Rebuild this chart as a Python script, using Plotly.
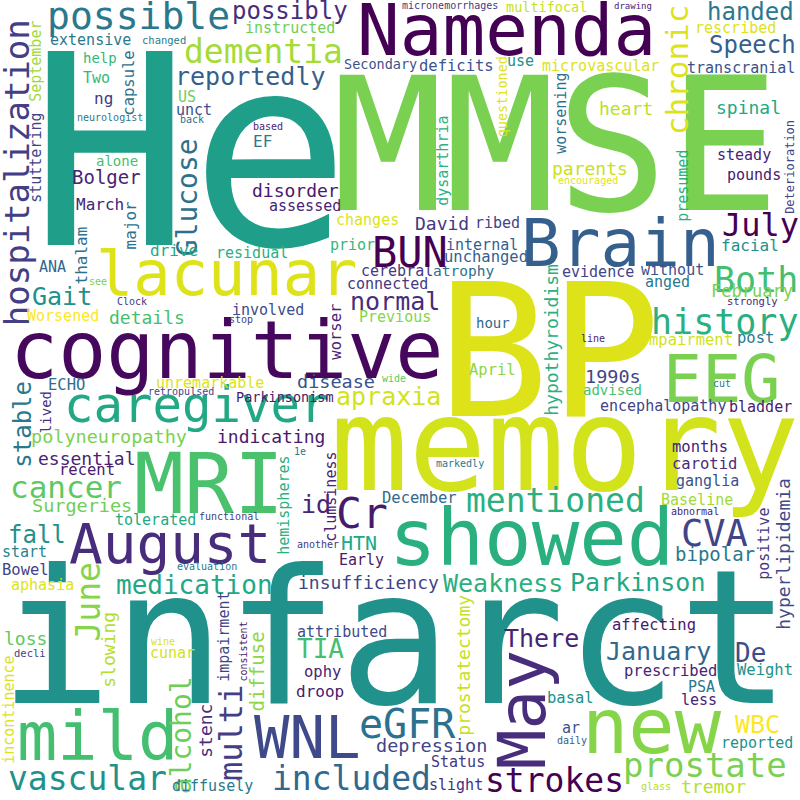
import plotly.graph_objects as go

# word, x, y, font size, color, angle
# horizontal words: x = centre of word, y = baseline
# vertical words (angle 90): x = baseline position, y = centre of word
words = ["He", "MMSE", "BP", "memory", "cognitive", "infarct", "Namenda", "Brain", "lacunar", "caregiver",
         "MRI", "showed", "August", "new", "mild", "WNL", "May", "eGFR", "strokes", "prostate",
         "dementia", "possible", "hospitalization", "reportedly", "possibly", "instructed", "extensive", "changed", "September", "help",
         "Two", "capsule", "ng", "US", "unct", "neurologist", "back", "based", "EF", "Glucose",
         "disorder", "alone", "Bolger", "stuttering", "March", "major", "drive", "residual", "thalam", "ANA",
         "micronemorrhages", "multifocal", "Secondary", "deficits", "questioned", "use", "microvascular", "drawing", "handed", "chronic",
         "Speech", "rescribed", "transcranial", "worsening", "heart", "spinal", "Deterioration", "steady", "pounds", "parents",
         "encouraged", "presumed", "July", "facial", "Both", "evidence", "without", "anged", "hypothyroidism", "February",
         "strongly", "history", "mpairment", "post", "line", "EEG", "1990s", "cut", "advised", "encephalopathy",
         "bladder", "months", "carotid", "ganglia", "hyperlipidemia", "Baseline", "abnormal", "positive", "mentioned", "CVA",
         "bipolar", "Parkinson", "Weakness", "affecting", "There", "January", "De", "prescribed", "Weight", "PSA",
         "basal", "less", "WBC", "ar", "daily", "reported", "glass", "tremor", "HTN", "another",
         "hemispheres", "clumsiness", "Early", "insufficiency", "attributed", "TIA", "ophy", "droop", "prostatectomy", "depression",
         "Status", "included", "slight", "fall", "start", "Bowel", "evaluation", "medication", "aphasia", "June",
         "loss", "decli", "slowing", "wine", "cunar", "impairment", "consistent", "diffuse", "incontinence", "alcohol",
         "stenc", "multi", "vascular", "diffusely", "Gait", "see", "Clock", "Worsened", "details", "involved",
         "stop", "ECHO", "stable", "lived", "unremarkable", "retropulsed", "Parkinsonism", "polyneuropathy", "indicating", "essential",
         "recent", "cancer", "Surgeries", "tolerated", "functional", "cerebral", "atrophy", "connected", "normal", "Previous",
         "worser", "hour", "disease", "wide", "April", "apraxia", "1e", "markedly", "id", "Cr",
         "December", "assessed", "changes", "David", "ribed", "dysarthria", "prior", "BUN", "internal", "unchanged"]

x_pos = [190, 556, 549, 565, 226, 395, 506, 620, 226, 197,
         209, 531, 170, 652, 97, 307, 545, 407, 554, 705,
         263, 138, 29, 250, 290, 290, 90, 164, 41, 100,
         96, 134, 103, 187, 194, 110, 192, 268, 262, 197,
         295, 117, 106, 41, 100, 136, 174, 252, 87, 52,
         450, 546, 380, 456, 507, 520, 600, 633, 750, 688,
         752, 735, 741, 566, 626, 748, 794, 744, 754, 590,
         588, 688, 760, 750, 756, 598, 672, 667, 557, 752,
         752, 725, 691, 755, 593, 721, 613, 722, 612, 663,
         760, 700, 704, 707, 789, 697, 695, 769, 555, 714,
         715, 637, 503, 654, 541, 658, 750, 670, 765, 701,
         570, 699, 757, 571, 572, 757, 656, 713, 359, 318,
         289, 336, 361, 368, 342, 320, 322, 320, 469, 431,
         458, 351, 456, 37, 24, 25, 207, 194, 42, 99,
         25, 30, 114, 163, 172, 229, 246, 264, 14, 191,
         211, 242, 87, 212, 62, 98, 132, 63, 147, 268,
         241, 66, 31, 51, 210, 181, 285, 109, 271, 87,
         87, 66, 82, 155, 229, 397, 463, 387, 395, 395,
         341, 493, 336, 394, 492, 388, 300, 460, 316, 362,
         419, 305, 367, 442, 497, 448, 352, 410, 482, 486]

y_pos = [245, 210, 416, 490, 378, 703, 55, 266, 295, 422,
         513, 565, 563, 753, 760, 758, 710, 738, 792, 777,
         63, 29, 173, 85, 19, 33, 45, 44, 61, 63,
         83, 83, 104, 102, 115, 121, 123, 130, 147, 197,
         197, 166, 184, 158, 210, 225, 256, 258, 255, 272,
         9, 12, 69, 71, 97, 66, 71, 9, 20, 70,
         53, 33, 73, 113, 115, 114, 167, 160, 180, 175,
         184, 186, 236, 251, 292, 277, 275, 287, 340, 297,
         305, 334, 345, 343, 342, 402, 383, 387, 395, 411,
         412, 452, 469, 486, 554, 505, 515, 544, 512, 546,
         561, 591, 592, 630, 647, 660, 662, 676, 675, 692,
         703, 705, 733, 733, 744, 748, 790, 793, 550, 548,
         505, 497, 565, 589, 637, 658, 677, 697, 665, 752,
         767, 790, 790, 543, 557, 575, 570, 594, 590, 602,
         645, 657, 650, 645, 658, 637, 652, 671, 710, 735,
         731, 733, 790, 791, 305, 285, 305, 321, 324, 315,
         323, 390, 424, 412, 388, 395, 402, 443, 443, 465,
         475, 498, 512, 525, 520, 276, 276, 289, 310, 322,
         332, 328, 388, 382, 375, 405, 455, 467, 513, 528,
         503, 211, 225, 230, 228, 161, 250, 267, 250, 262]

sizes = [266, 186, 186, 130, 80, 188, 71, 66, 62, 49,
         83, 79, 56, 77, 67, 59, 66, 40, 33, 34,
         33, 38, 34, 25, 24, 15, 15, 10.5, 15, 14,
         15, 15.5, 16, 15, 15, 10, 10, 10, 16, 28,
         18, 14, 19, 15, 16, 16, 16, 15, 16, 15,
         10, 13.5, 13.5, 15.5, 13.5, 15, 15, 9, 24, 31,
         24, 15, 15, 15, 18, 18, 12, 15, 15, 18,
         10, 15, 32, 16, 35, 15, 15, 15, 18, 17,
         10.5, 35, 15.5, 15.5, 10, 65, 18.5, 10, 14, 15,
         15, 15.5, 15.5, 15, 18, 15, 10, 15, 33, 37,
         19, 25, 25, 15.5, 25, 25, 26, 15.5, 15.5, 15,
         15.5, 15, 25, 15, 10, 15, 10, 18, 20, 10,
         15, 15, 15, 18, 15, 26, 15.5, 16, 18, 18.5,
         15, 33, 15, 24, 15, 15.5, 10, 26, 15, 33,
         18, 10.5, 18, 10, 15, 15, 10, 19, 15, 28,
         18, 32, 33, 15, 25, 10, 10, 15, 18, 15,
         10, 15.5, 24, 14, 15, 10, 13.5, 18.5, 18, 18,
         15.5, 31, 18.5, 15, 10, 15, 14.5, 15, 25, 15,
         15.5, 14, 18.5, 10, 15.5, 25, 10, 10, 25, 43,
         15.5, 15, 15, 18, 15, 15, 15, 42, 15, 15.5]

colors = ["#1f9e89", "#7ad151", "#dde318", "#d2e21b", "#46085c", "#21918c", "#440154", "#355f8d", "#dde318", "#22a884",
          "#4ac16d", "#2ab07f", "#472d7b", "#86d549", "#44bf70", "#3e4a89", "#472d7b", "#2c728e", "#440154", "#7ad151",
          "#a5db36", "#2a788e", "#433e85", "#355f8d", "#472d7b", "#6ece58", "#2a788e", "#27808e", "#a0da39", "#35b779",
          "#35b779", "#2d708e", "#443983", "#6ece58", "#3b528b", "#2a788e", "#2d708e", "#482475", "#2a788e", "#2d708e",
          "#481a6c", "#44bf70", "#482475", "#414487", "#482475", "#2d708e", "#22a884", "#2ab07f", "#2d708e", "#31688e",
          "#443983", "#c8e020", "#3b528b", "#3b528b", "#dde318", "#21918c", "#dde318", "#482475", "#2a788e", "#dde318",
          "#355f8d", "#dde318", "#3b528b", "#2d708e", "#bddf26", "#22a884", "#414487", "#482475", "#481a6c", "#c8e020",
          "#dde318", "#2ab07f", "#440154", "#21918c", "#44bf70", "#414487", "#3b528b", "#2a788e", "#2ab07f", "#7ad151",
          "#482475", "#2ab07f", "#d2e21b", "#2a788e", "#482475", "#7ad151", "#414487", "#2a788e", "#44bf70", "#414487",
          "#481a6c", "#482475", "#472d7b", "#3b528b", "#3e4c8a", "#a0da39", "#482475", "#443983", "#2ab07f", "#414487",
          "#2a788e", "#22a884", "#2ab07f", "#481a6c", "#482475", "#31688e", "#3e4c8a", "#482475", "#21918c", "#2a788e",
          "#21918c", "#482475", "#fde725", "#3b528b", "#375a8c", "#21918c", "#b5de2b", "#b5de2b", "#22a884", "#443983",
          "#2ab07f", "#482475", "#481a6c", "#414487", "#3e4c8a", "#44bf70", "#482475", "#481a6c", "#c8e020", "#414487",
          "#443983", "#31688e", "#472f7d", "#21918c", "#25858e", "#414487", "#2a788e", "#22a884", "#dde318", "#86d549",
          "#5ec962", "#414487", "#b5de2b", "#dde318", "#d2e21b", "#414487", "#481a6c", "#8ed645", "#dde318", "#6ece58",
          "#472f7d", "#433e85", "#21918c", "#2a788e", "#21918c", "#7ad151", "#443983", "#fde725", "#44bf70", "#3e4c8a",
          "#414487", "#2d708e", "#2a788e", "#472f7d", "#dde318", "#414487", "#481a6c", "#7ad151", "#481a6c", "#482475",
          "#481a6c", "#5ec962", "#6ece58", "#22a884", "#414487", "#443983", "#2d708e", "#443983", "#472d7b", "#86d549",
          "#482475", "#31688e", "#3b528b", "#5ec962", "#8ed645", "#d2e21b", "#2a788e", "#2a788e", "#482475", "#481a6c",
          "#31688e", "#482475", "#dde318", "#443983", "#414487", "#2ab07f", "#35b779", "#440154", "#355f8d", "#355f8d"]

vertical = {"May", "hospitalization", "September", "capsule", "Glucose", "stuttering", "major", "thalam",
            "questioned", "chronic", "worsening", "Deterioration", "presumed", "hypothyroidism",
            "hyperlipidemia", "positive", "hemispheres", "clumsiness", "prostatectomy", "June",
            "slowing", "impairment", "consistent", "diffuse", "incontinence", "alcohol", "stenc",
            "multi", "stable", "lived", "worser", "dysarthria"}
angles = [90 if w in vertical else 0 for w in words]

FONT = "DejaVu Sans Mono"
SHIFT = 0.346  # distance from baseline to centre of the text box, in em

fig = go.Figure()
fig.add_trace(go.Scatter(x=[0, 800], y=[0, 800], mode="markers",
                         marker=dict(opacity=0), hoverinfo="skip", showlegend=False))

annotations = []
for w, x, y, s, c, a in zip(words, x_pos, y_pos, sizes, colors, angles):
    if a:
        cx, cy = x - SHIFT * s, y
    else:
        cx, cy = x, y - SHIFT * s
    annotations.append(dict(x=cx, y=cy, xref="x", yref="y", text=w, showarrow=False,
                            xanchor="center", yanchor="middle", textangle=-a,
                            font=dict(family=FONT, size=s, color=c)))

fig.update_layout(width=800, height=800, margin=dict(l=0, r=0, t=0, b=0),
                  paper_bgcolor="white", plot_bgcolor="white",
                  xaxis=dict(range=[0, 800], visible=False, fixedrange=True),
                  yaxis=dict(range=[800, 0], visible=False, fixedrange=True),
                  annotations=annotations)
fig.write_html("out.html", config={"displayModeBar": False, "staticPlot": True},
               post_script="document.body.style.margin='0px';document.body.style.overflow='hidden';")
